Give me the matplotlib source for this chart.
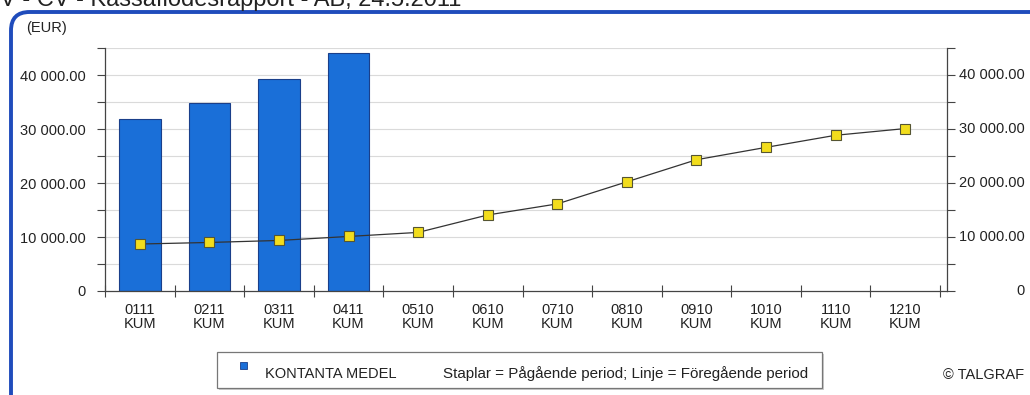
import matplotlib
matplotlib.use("Agg")
import matplotlib.pyplot as plt
from matplotlib.patches import FancyBboxPatch, Rectangle
from matplotlib.ticker import MultipleLocator, FuncFormatter
from matplotlib.transforms import blended_transform_factory
import numpy as np

plt.rcParams['font.family'] = ['Liberation Sans', 'DejaVu Sans']

# Periods (cumulative) and values in EUR
periods = ["0111", "0211", "0311", "0411", "0510", "0610",
           "0710", "0810", "0910", "1010", "1110", "1210"]
current_period = [31870, 34850, 39260, 44040]           # bars: ongoing period
previous_period = [8700, 8990, 9360, 10100, 10850, 14080,
                   16130, 20220, 24310, 26600, 28840, 30080]  # line: previous period
tick_labels = [f"{p}\nKUM" for p in periods]
y_ticks = [0, 10000, 20000, 30000, 40000]

W, H = 1030, 395
fig = plt.figure(figsize=(W / 100, H / 100), dpi=100)
fig.patch.set_facecolor("white")

# Report title (partly above the page edge)
fig.text(0.0, 1 - 6 / H, "V - CV - Kassaflödesrapport - AB, 24.5.2011",
         fontsize=17, color="#222222", va="baseline", ha="left")

# Rounded blue frame around the chart area
frame = FancyBboxPatch((11 / W, -0.2), 1.1, 1 - 12 / H + 0.2,
                       boxstyle="round,pad=0,rounding_size=0.018",
                       transform=fig.transFigure, fill=False,
                       edgecolor="#1f4cbc", linewidth=2.8, clip_on=False,
                       mutation_aspect=W / H)
fig.patches.append(frame)

fig.text(26 / W, 1 - 28 / H, "(EUR)", fontsize=10.5, color="#222222",
         va="center", ha="left")

ax = fig.add_axes([105 / W, 1 - 291 / H, (947 - 105) / W, (291 - 48) / H])
x = np.arange(len(periods))

ax.bar(x[:len(current_period)], current_period, width=0.6, color="#1a6fd8",
       edgecolor="#1a3f8a", linewidth=0.8, zorder=2)
ax.plot(x, previous_period, color="#333333", linewidth=0.9, marker="s",
        markersize=7, markerfacecolor="#f2dd1c", markeredgecolor="#555533",
        markeredgewidth=0.8, zorder=3)

ax.set_xlim(-0.5, len(periods) - 0.4)
ax.set_ylim(0, 45000)

ax.set_xticks(np.arange(len(periods) + 1) - 0.5)
ax.set_xticklabels([])
ax.set_xticks(x, minor=True)
ax.set_xticklabels(tick_labels, minor=True, fontsize=10.5, color="#222222",
                   linespacing=1.0)
ax.tick_params(axis="x", which="major", direction="inout", length=9,
               color="#444444", width=0.8)
ax.tick_params(axis="x", which="minor", length=0, pad=9)

fmt = FuncFormatter(lambda v, p: "0" if v == 0 else f"{v:,.2f}".replace(",", " "))
ax.yaxis.set_major_locator(MultipleLocator(10000))
ax.yaxis.set_minor_locator(MultipleLocator(5000))
ax.yaxis.set_major_formatter(fmt)
ax.tick_params(axis="y", which="both", direction="out", length=6,
               color="#444444", width=0.8, labelsize=10.5, labelcolor="#222222",
               pad=8)
ax.tick_params(axis="y", which="both", right=True)

for v in np.arange(5000, 45001, 5000):
    ax.axhline(v, color="#dadada", linewidth=0.8, zorder=0)

ax.spines["top"].set_visible(False)
for side in ["left", "right", "bottom"]:
    ax.spines[side].set_color("#444444")
    ax.spines[side].set_linewidth(0.9)

# Right-hand scale labels, right-aligned near the frame edge
rt = blended_transform_factory(fig.transFigure, ax.transData)
for v in y_ticks:
    fig.text(1025 / W, v, fmt(v, None), transform=rt, fontsize=10.5,
             color="#222222", ha="right", va="center")

# Legend box
lx0, ly0, lx1, ly1 = 217, 352, 822, 388
shadow = Rectangle(((lx0 + 2) / W, 1 - (ly1 + 2) / H), (lx1 - lx0) / W,
                   (ly1 - ly0) / H, transform=fig.transFigure,
                   facecolor="#cccccc", edgecolor="none")
box = Rectangle((lx0 / W, 1 - ly1 / H), (lx1 - lx0) / W, (ly1 - ly0) / H,
                transform=fig.transFigure, facecolor="white",
                edgecolor="#777777", linewidth=0.9)
fig.patches.extend([shadow, box])
fig.patches.append(Rectangle((240 / W, 1 - 369 / H), 7 / W, 7 / H,
                             transform=fig.transFigure, facecolor="#1a6fd8",
                             edgecolor="#1a3f8a", linewidth=0.6))
fig.text(265 / W, 1 - 374 / H, "KONTANTA MEDEL", fontsize=10.5, color="#222222",
         va="center", ha="left")
fig.text(443 / W, 1 - 374 / H,
         "Staplar = Pågående period; Linje = Föregående period",
         fontsize=10.9, color="#222222", va="center", ha="left")

fig.text(1024 / W, 1 - 375 / H, "© TALGRAF", fontsize=10.5, color="#222222",
         va="center", ha="right")

fig.savefig("out.png", dpi=100)
